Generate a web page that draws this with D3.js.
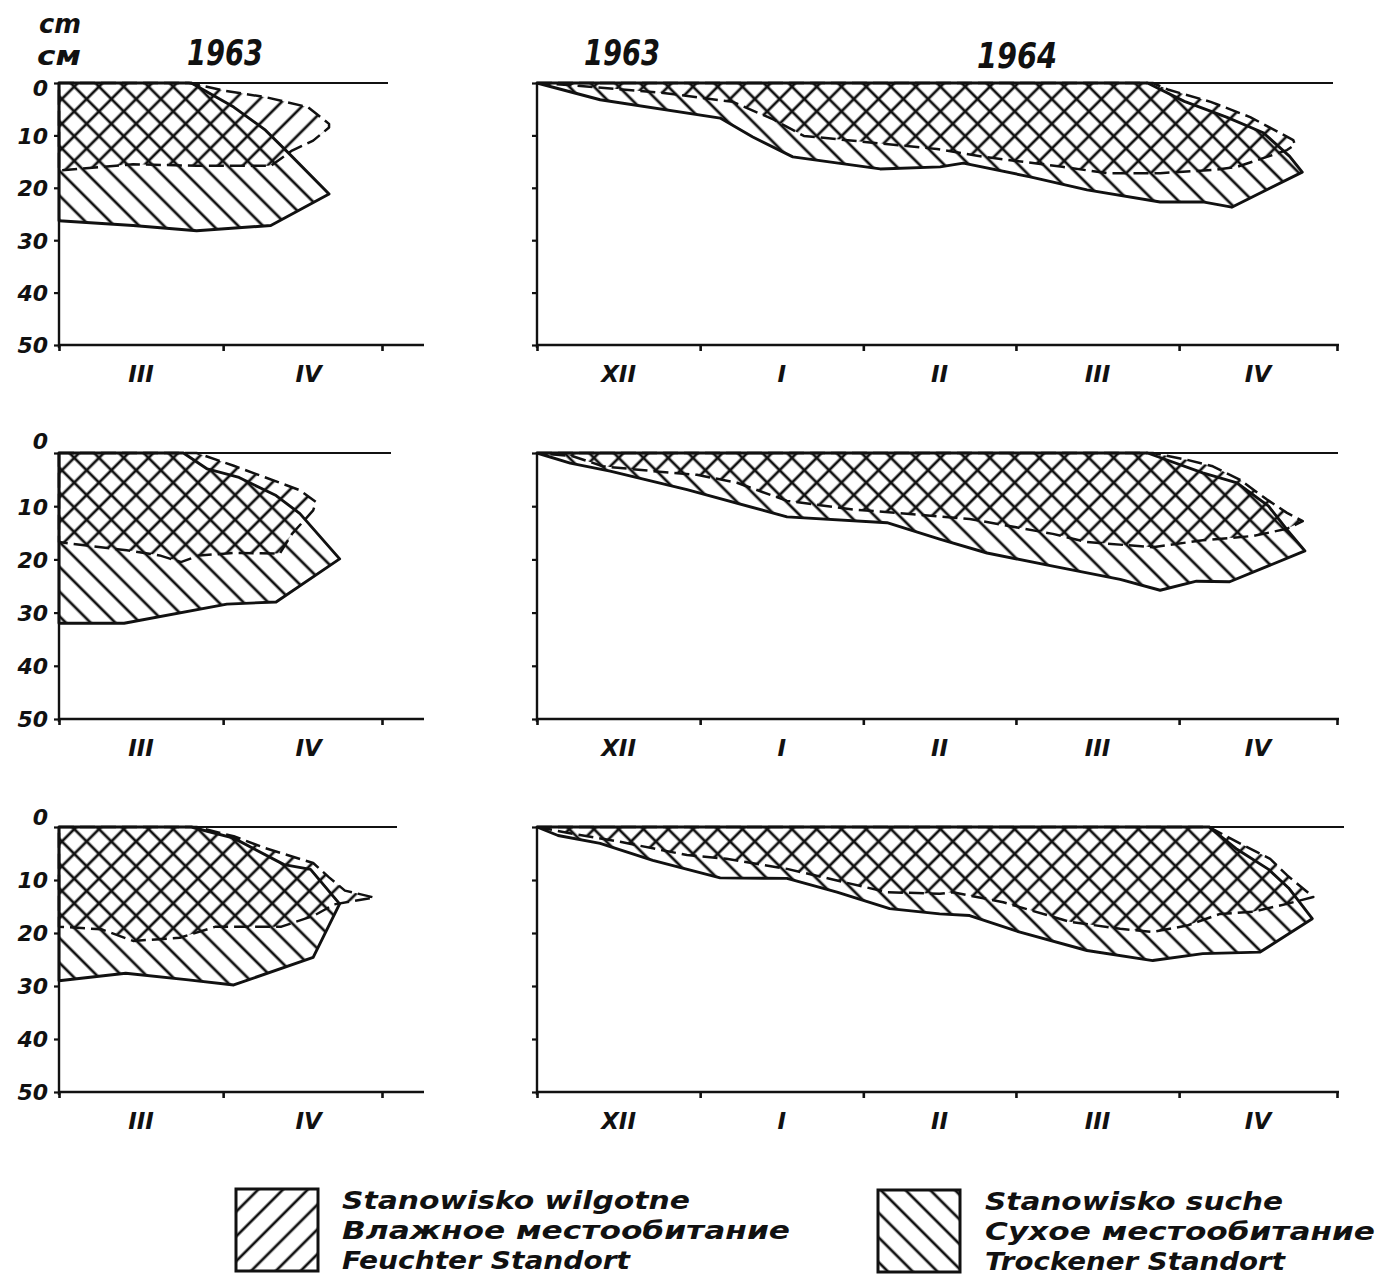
<!DOCTYPE html>
<html><head><meta charset="utf-8">
<script src="https://cdn.jsdelivr.net/npm/d3@7"></script>
<style>
body{margin:0;background:#fff}
svg{display:block;background:#fff}
text{font-family:"DejaVu Sans",sans-serif;font-weight:bold;font-style:italic;fill:#111}
</style>
</head><body><svg id="c" width="1381" height="1277"></svg>
<script>
// ---------- data (depth of frozen soil layer, cm; x = day of season) ----------
const depthTicks = [0, 10, 20, 30, 40, 50];
const leftMonths = ["III", "IV"];
const leftMonthLengths = [31, 30];
const rightMonths = ["XII", "I", "II", "III", "IV"];
const rightMonthLengths = [31, 31, 29, 31, 30];
const leftTitles = ["1963"];
const rightTitles = ["1963", "1964"];
const unitLabels = ["cm", "см"];
const legendWet = ["Stanowisko wilgotne", "Влажное местообитание", "Feuchter Standort"];
const legendDry = ["Stanowisko suche", "Сухое местообитание", "Trockener Standort"];

// Row 1, left (III–IV 1963)
const dryL1Top = [[0,0],[25,0],[33,4.6],[39,9],[43.5,13.5],[51,21.2]];
const dryL1Bottom = [[0,26.3],[14,27.2],[26,28.2],[40,27.2],[51,21.2]];
const wetL1Top = [[0,0],[24.5,0],[31.5,1.5],[39,2.7],[47,4.6],[51,7.8]];
const wetL1Bottom = [[0,16.7],[14,15.5],[26,15.8],[40,15.8],[44,12.9],[48,11],[51,8.5]];
// Row 2, left
const dryL2Top = [[0,0],[23.5,0],[28,3],[34,4.6],[41,8],[45.5,11.4],[53,19.9]];
const dryL2Bottom = [[0,32],[12.3,32],[31.7,28.4],[41,28],[53,19.9]];
const wetL2Top = [[0,0],[26,0],[33,2.4],[39,4.6],[45.5,7],[48.5,9.2]];
const wetL2Bottom = [[0,16.75],[12.8,18.3],[19,19.25],[23,20.5],[26.5,19.25],[33,18.8],[41.7,18.9],[44,15.2],[48,10.8],[48.5,9.2]];
// Row 3, left
const dryL3Top = [[0,0],[25,0],[28,0.8],[33,2.1],[42.5,7.1],[47.5,8],[53,14.5]];
const dryL3Bottom = [[0,29],[12.6,27.6],[24,28.8],[33,29.8],[48,24.6],[53,14.5]];
const wetL3Top = [[0,0],[26,0],[33,1.75],[39,4],[48,6.8],[51,9.5],[54,12],[59.5,13.3]];
const wetL3Bottom = [[0,18.8],[8,19.3],[14,21.5],[22.8,20.9],[29.6,18.8],[42,18.8],[48,16.8],[52,14.6],[59.5,13.3]];
// Row 1, right (XII 1963 – IV 1964)
const dryR1Top = [[0,0],[116,0],[123,3.5],[131,6.5],[138,9.5],[143,14],[145.4,17]];
const dryR1Bottom = [[0,0],[12,3.2],[34.8,6.7],[41,10.3],[48.6,14.1],[65.2,16.4],[76.6,16],[81,15.3],[93.7,17.9],[104.5,20.4],[118.4,22.7],[126.5,22.7],[132,23.7],[145.4,17]];
const wetR1Top = [[0,0],[117,0],[120,1.3],[128,3.6],[135.5,6.5],[143.7,10.9],[144,11.8]];
const wetR1Bottom = [[0,0],[7.6,0.5],[24,1.9],[37.2,3.6],[45,7],[50.7,10.1],[76,12.6],[85,14.1],[99.8,16],[108.3,17.2],[118.4,17.2],[128.5,16.6],[133,16],[138.7,14.1],[142.5,12.8],[144,11.8]];
// Row 2, right
const dryR2Top = [[0,0],[116,0],[126.5,3.75],[133,5.6],[139,10],[142.5,14.4],[145.9,18.4]];
const dryR2Bottom = [[0,0],[6.3,1.9],[13.9,3.4],[28.5,6.9],[47.5,12],[66.5,13.1],[76.5,16.2],[85.5,18.8],[98,21.25],[110.8,23.75],[118.4,25.8],[125.3,24.1],[131.6,24.2],[145.9,18.4]];
const wetR2Top = [[0,0],[117,0],[123.4,1.25],[128.4,2.5],[133.5,5],[138.7,8.75],[142.5,11.25],[145.5,12.8]];
const wetR2Bottom = [[0,0],[6.8,0.6],[12.5,2.5],[22,3.4],[30.4,4.1],[38,5.6],[47.5,9],[53.8,9.8],[60,10.6],[76,11.9],[82.2,12.4],[98,15.2],[104.5,16.75],[117,17.7],[126.5,16.4],[136,15.6],[142.5,14.25],[145.5,12.8]];
// Row 3, right
const dryR3Top = [[0,0],[127.7,0],[133,4.2],[139,8],[142.8,11.5],[147.3,17.3]];
const dryR3Bottom = [[0,0],[4,1.6],[12,3.1],[22,6.3],[34.8,9.6],[47.5,9.7],[57,12.3],[67,15.4],[76.5,16.4],[82.2,16.7],[91.6,19.8],[104.5,23.3],[117,25.2],[126.5,23.9],[137.4,23.6],[147.3,17.3]];
const wetR3Top = [[0,0],[127.7,0],[133,2.8],[139.3,6],[142.5,9.1],[147.5,13.2]];
const wetR3Bottom = [[0,0],[6.8,1.3],[15.8,2.8],[28.5,5.3],[36,6],[47.5,7.9],[57,10.1],[66.5,12.3],[76.5,12.6],[79,12.3],[88.6,14.2],[101.3,17.9],[110.8,19.2],[117,19.8],[123.5,18.6],[129.8,16.4],[136,16],[142.5,14.5],[147.5,13.2]];

// ---------- layout ----------
const INK = "#111";
const rows = [{top:83, bottom:345, zeroDy:5}, {top:453, bottom:719, zeroDy:-12}, {top:827, bottom:1092, zeroDy:-10}];
const sides = {
  L: {range:[59, 382], months:leftMonths, lengths:leftMonthLengths, topEnd:[388, 391, 397], axisEnd:424, labels:true},
  R: {range:[537, 1337], months:rightMonths, lengths:rightMonthLengths, topEnd:[1333, 1338, 1344], axisEnd:1339, labels:false}
};
const panels = [
  {row:0, side:"L", wet:[wetL1Top, wetL1Bottom], dry:[dryL1Top, dryL1Bottom]},
  {row:1, side:"L", wet:[wetL2Top, wetL2Bottom], dry:[dryL2Top, dryL2Bottom]},
  {row:2, side:"L", wet:[wetL3Top, wetL3Bottom], dry:[dryL3Top, dryL3Bottom]},
  {row:0, side:"R", wet:[wetR1Top, wetR1Bottom], dry:[dryR1Top, dryR1Bottom]},
  {row:1, side:"R", wet:[wetR2Top, wetR2Bottom], dry:[dryR2Top, dryR2Bottom]},
  {row:2, side:"R", wet:[wetR3Top, wetR3Bottom], dry:[dryR3Top, dryR3Bottom]}
];

const svg = d3.select("#c");
svg.append("rect").attr("width",1381).attr("height",1277).attr("fill","#fff");
const defs = svg.append("defs");
function hatch(id, angle){
  const w = 17.5;
  const p = defs.append("pattern").attr("id", id).attr("patternUnits","userSpaceOnUse")
    .attr("width", w).attr("height", w).attr("patternTransform", `rotate(${angle})`);
  p.append("line").attr("x1", w/2).attr("y1", -1).attr("x2", w/2).attr("y2", w+1)
    .attr("stroke", INK).attr("stroke-width", 2.7);
}
hatch("hWet", 45);   // "/"
hatch("hDry", -45);  // "\"

panels.forEach(pn => {
  const r = rows[pn.row], s = sides[pn.side];
  const bounds = [0, ...Array.from(d3.cumsum(s.lengths))];
  const x = d3.scaleLinear().domain([0, bounds[bounds.length-1]]).range(s.range);
  const y = d3.scaleLinear().domain([0, 50]).range([r.top, r.bottom]);
  const g = svg.append("g");
  const line = d3.line().x(d => x(d[0])).y(d => y(d[1]));
  const poly = pair => pair[0].concat(pair[1].slice().reverse());

  g.append("path").attr("d", line(poly(pn.wet)) + "Z").attr("fill","url(#hWet)").attr("stroke","none");
  g.append("path").attr("d", line(poly(pn.dry)) + "Z").attr("fill","url(#hDry)").attr("stroke","none");
  g.append("path").attr("d", line(poly(pn.wet)) + "Z").attr("fill","none").attr("stroke",INK)
    .attr("stroke-width",2.5).attr("stroke-dasharray","15,6").attr("stroke-linejoin","round");
  g.append("path").attr("d", line(poly(pn.dry)) + "Z").attr("fill","none").attr("stroke",INK)
    .attr("stroke-width",2.9).attr("stroke-linejoin","round");

  // axis lines
  const x0 = s.range[0];
  g.append("line").attr("x1",x0).attr("x2",s.topEnd[pn.row]).attr("y1",r.top).attr("y2",r.top).attr("stroke",INK).attr("stroke-width",2.2);
  g.append("line").attr("x1",x0).attr("x2",s.axisEnd).attr("y1",r.bottom).attr("y2",r.bottom).attr("stroke",INK).attr("stroke-width",2.4);
  g.append("line").attr("x1",x0).attr("x2",x0).attr("y1",r.top).attr("y2",r.bottom+3).attr("stroke",INK).attr("stroke-width",2.4);

  const ay = g.append("g").attr("transform",`translate(${x0},0)`)
    .call(d3.axisLeft(y).tickValues(depthTicks).tickSize(5).tickFormat(s.labels ? d => String(d) : () => ""));
  ay.select(".domain").remove();
  ay.selectAll(".tick line").attr("stroke",INK).attr("stroke-width",2.2);
  ay.selectAll(".tick text").attr("font-size",22).attr("x",-11).attr("fill",INK)
    .attr("dy", d => d === 0 ? (r.zeroDy/22 + 0.32) + "em" : "0.36em");

  const ax = g.append("g").attr("transform",`translate(0,${r.bottom})`)
    .call(d3.axisBottom(x).tickValues(bounds).tickSize(6).tickFormat(""));
  ax.select(".domain").remove();
  ax.selectAll(".tick line").attr("stroke",INK).attr("stroke-width",2.6);

  g.selectAll("text.month").data(s.months).join("text").attr("class","month")
    .attr("x", (m,i) => x((bounds[i]+bounds[i+1])/2) + (pn.side==="L" && i===1 ? 6 : 0))
    .attr("y", r.bottom + 37).attr("text-anchor","middle").attr("font-size",23).text(m => m);
});

// titles
svg.append("text").attr("x",225).attr("y",65).attr("text-anchor","middle").attr("font-size",35)
  .attr("textLength",76).attr("lengthAdjust","spacingAndGlyphs").text(leftTitles[0]);
svg.append("text").attr("x",622).attr("y",65).attr("text-anchor","middle").attr("font-size",35)
  .attr("textLength",76).attr("lengthAdjust","spacingAndGlyphs").text(rightTitles[0]);
svg.append("text").attr("x",1017).attr("y",68).attr("text-anchor","middle").attr("font-size",35)
  .attr("textLength",80).attr("lengthAdjust","spacingAndGlyphs").text(rightTitles[1]);
svg.append("text").attr("x",39).attr("y",33).attr("font-size",26)
  .attr("textLength",42).attr("lengthAdjust","spacingAndGlyphs").text(unitLabels[0]);
svg.append("text").attr("x",37).attr("y",65).attr("font-size",26)
  .attr("textLength",44).attr("lengthAdjust","spacingAndGlyphs").text(unitLabels[1]);

// legend
function legend(x, y, fill, lines, tx, widths){
  svg.append("rect").attr("x",x).attr("y",y).attr("width",82).attr("height",82)
    .attr("fill",fill).attr("stroke",INK).attr("stroke-width",3);
  lines.forEach((t,i) => {
    svg.append("text").attr("x",tx).attr("y",y + 20 + i*30).attr("font-size",25)
      .attr("textLength",widths[i]).attr("lengthAdjust","spacingAndGlyphs").text(t);
  });
}
legend(236, 1189, "url(#hWet)", legendWet, 342, [348, 448, 288]);
legend(878, 1190, "url(#hDry)", legendDry, 985, [298, 390, 300]);
</script></body></html>
